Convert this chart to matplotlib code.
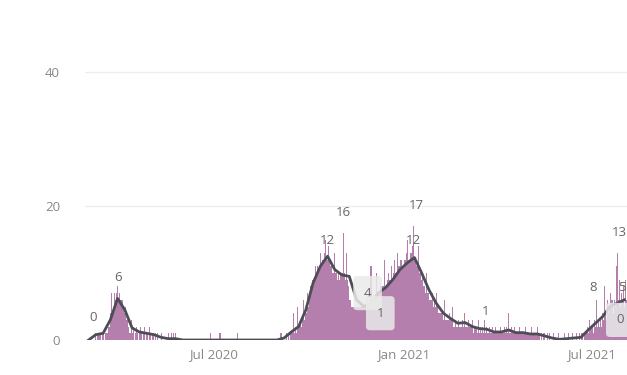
import numpy as np
import pandas as pd
import matplotlib
matplotlib.use('Agg')
import matplotlib.pyplot as plt
import matplotlib.dates as mdates

START = '2020-02-28'

# daily counts, one row per week
daily_cases = [
    0, 0, 0, 0, 0, 0, 0,
    0, 0, 0, 1, 0, 1, 1,
    1, 0, 1, 1, 0, 1, 1,
    1, 2, 2, 4, 7, 4, 5,
    7, 6, 7, 8, 6, 7, 6,
    6, 6, 5, 4, 5, 3, 3,
    2, 1, 3, 1, 2, 0, 1,
    2, 1, 0, 1, 2, 1, 0,
    1, 2, 0, 1, 1, 0, 2,
    1, 0, 1, 1, 0, 1, 0,
    1, 0, 0, 1, 0, 0, 0,
    0, 0, 0, 1, 0, 0, 1,
    0, 1, 0, 1, 0, 0, 0,
    0, 0, 0, 0, 0, 0, 0,
    0, 0, 0, 0, 0, 0, 0,
    0, 0, 0, 0, 0, 0, 0,
    0, 0, 0, 0, 0, 0, 0,
    0, 0, 1, 0, 0, 0, 0,
    0, 0, 0, 0, 1, 0, 0,
    0, 0, 0, 0, 0, 0, 0,
    0, 0, 0, 0, 0, 0, 0,
    1, 0, 0, 0, 0, 0, 0,
    0, 0, 0, 0, 0, 0, 0,
    0, 0, 0, 0, 0, 0, 0,
    0, 0, 0, 0, 0, 0, 0,
    0, 0, 0, 0, 0, 0, 0,
    0, 0, 0, 0, 0, 0, 0,
    1, 0, 0, 0, 0, 1, 0,
    1, 0, 1, 1, 1, 4, 1,
    2, 1, 5, 2, 2, 3, 2,
    3, 6, 3, 4, 4, 7, 5,
    7, 8, 9, 8, 9, 11, 10,
    11, 10, 11, 13, 11, 12, 12,
    13, 15, 12, 12, 14, 12, 11,
    11, 10, 10, 13, 10, 10, 9,
    10, 9, 10, 10, 16, 10, 9,
    13, 9, 8, 6, 6, 5, 5,
    5, 5, 5, 5, 5, 5, 5,
    5, 5, 5, 5, 5, 5, 5,
    5, 5, 5, 11, 5, 5, 6,
    6, 10, 7, 7, 7, 8, 8,
    8, 8, 12, 8, 8, 9, 10,
    9, 9, 11, 9, 10, 12, 10,
    10, 13, 11, 11, 12, 11, 11,
    12, 12, 13, 15, 12, 12, 13,
    13, 14, 17, 12, 12, 11, 11,
    14, 10, 10, 9, 10, 8, 8,
    7, 10, 7, 7, 6, 6, 7,
    5, 6, 5, 7, 5, 4, 4,
    4, 4, 4, 3, 6, 3, 3,
    3, 3, 4, 3, 3, 5, 2,
    2, 3, 2, 2, 3, 2, 2,
    3, 2, 4, 2, 2, 2, 3,
    2, 2, 2, 3, 1, 2, 2,
    2, 1, 3, 1, 2, 1, 2,
    1, 3, 1, 2, 1, 1, 2,
    1, 2, 1, 1, 2, 1, 1,
    1, 1, 2, 1, 1, 1, 2,
    1, 2, 1, 4, 1, 1, 2,
    1, 1, 2, 1, 1, 1, 1,
    2, 1, 1, 1, 1, 2, 1,
    1, 1, 1, 1, 2, 1, 1,
    1, 1, 1, 2, 1, 1, 0,
    1, 0, 1, 1, 0, 0, 1,
    0, 1, 0, 0, 1, 0, 0,
    0, 0, 1, 0, 0, 0, 0,
    0, 1, 0, 0, 0, 1, 0,
    0, 0, 1, 0, 0, 0, 1,
    0, 0, 1, 0, 1, 0, 1,
    1, 1, 2, 1, 3, 2, 2,
    2, 1, 3, 2, 6, 2, 3,
    2, 3, 2, 4, 3, 8, 4,
    3, 6, 4, 5, 7, 6, 4,
    6, 5, 11, 13, 6, 9, 5,
    7, 6, 8, 5, 9, 6,
]

# weekly value of the average line
avg_line = [
    0, 0.8, 1, 3, 6.2, 4.5, 1.8, 1.2, 1, 0.8, 0.4, 0.2, 0.2,
    0, 0, 0, 0, 0, 0, 0, 0, 0, 0, 0, 0, 0, 0,
    0.3, 1.2, 2, 4.5, 8.5, 11, 12.5, 10.5, 9.7, 9.5,
    6, 5, 5.5, 7, 7.8, 9, 10.5, 11.5, 12.3, 10, 7.5, 5.5,
    4, 3.2, 2.5, 2.6, 2, 1.7, 1.6, 1.2, 1.2, 1.5, 1.1, 1.1,
    0.9, 0.9, 0.6, 0.3, 0.1, 0.2, 0.3, 0.4, 1.5, 2.5, 3.5, 5, 5.5, 6,
]

# data labels: (day offset, value position, text, boxed)
labels = [
    (7.7, 3.3, '0', False), (31, 9.3, '6', False),
    (234, 14.9, '12', False), (249.5, 19.1, '16', False),
    (272.7, 7.0, '4', True), (285, 4.0, '1', True),
    (320, 20.1, '17', False), (317, 14.9, '12', False),
    (387, 4.2, '1', False), (491, 7.9, '8', False),
    (516, 16.1, '13', False), (518.5, 7.9, '5', False),
    (517, 3.0, '0', True),
]

days = pd.date_range(START, periods=len(daily_cases), freq='D')
weeks = pd.date_range(START, periods=len(avg_line), freq='7D') + pd.Timedelta(days=3)
start = pd.Timestamp(START)

plt.rcParams['font.family'] = ['Open Sans', 'DejaVu Sans']

fig = plt.figure(figsize=(6.27, 3.75), dpi=100)
ax = fig.add_axes([85 / 627, 35 / 375, 542 / 627, 321.6 / 375])

ax.bar(days, daily_cases, width=1.0, color='#b57fad', linewidth=0)
ax.plot(weeks, avg_line, color='#4d4d55', linewidth=2)

for d, y, t, boxed in labels:
    x = start + pd.Timedelta(days=d)
    if boxed:
        ax.text(x, y, t, ha='center', va='center', fontsize=9.5, color='#666666',
                bbox=dict(boxstyle='round,pad=0.8,rounding_size=0.3', facecolor='#eaeaea',
                          edgecolor='none', alpha=0.85))
    else:
        ax.text(x, y, t, ha='center', va='center', fontsize=9.5, color='#666666')

ax.set_xlim(start - pd.Timedelta(days=0.5), start + pd.Timedelta(days=len(daily_cases) - 0.5))
ax.set_ylim(0, 48)
ax.set_yticks([0, 20, 40])
ax.xaxis.set_major_locator(mdates.MonthLocator(bymonth=[1, 7]))
ax.xaxis.set_major_formatter(mdates.DateFormatter('%b %Y'))
ax.grid(axis='y', color='#eeeeee', linewidth=1)
ax.set_axisbelow(True)
for s in ax.spines.values():
    s.set_visible(False)
ax.tick_params(length=0, colors='#888888', labelsize=9.5)
ax.tick_params(axis='y', pad=18)
ax.tick_params(axis='x', pad=6)

fig.savefig('out.png', dpi=100)
